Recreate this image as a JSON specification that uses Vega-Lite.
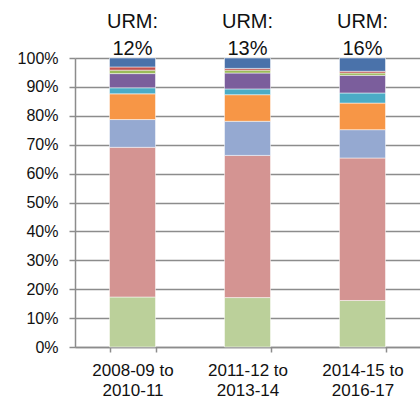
{
  "$schema": "https://vega.github.io/schema/vega-lite/v6.json",
  "width": 345,
  "height": 289,
  "padding": {"left": 75, "top": 58, "right": 0, "bottom": 55},
  "autosize": {"type": "none"},
  "background": "white",
  "config": {
    "view": {"stroke": null},
    "font": "Liberation Sans",
    "axisY": {
      "title": null,
      "labelOverlap": false,
      "labelFontSize": 16,
      "labelColor": "#111111",
      "labelPadding": 11,
      "grid": true,
      "gridColor": "#8c8c8c",
      "gridWidth": 1.5,
      "domainColor": "#8c8c8c",
      "domainWidth": 1.5,
      "tickSize": 6,
      "tickColor": "#8c8c8c",
      "tickWidth": 1.5
    }
  },
  "datasets": {
    "shares": [
      {"period": "2008-09 to 2010-11", "group": "Group 1", "k": 1, "value": 17.3},
      {"period": "2008-09 to 2010-11", "group": "Group 2", "k": 2, "value": 51.8},
      {"period": "2008-09 to 2010-11", "group": "Group 3", "k": 3, "value": 9.6},
      {"period": "2008-09 to 2010-11", "group": "Group 4", "k": 4, "value": 8.9},
      {"period": "2008-09 to 2010-11", "group": "Group 5", "k": 5, "value": 2.1},
      {"period": "2008-09 to 2010-11", "group": "Group 6", "k": 6, "value": 4.9},
      {"period": "2008-09 to 2010-11", "group": "Group 7", "k": 7, "value": 1.2},
      {"period": "2008-09 to 2010-11", "group": "Group 8", "k": 8, "value": 1.1},
      {"period": "2008-09 to 2010-11", "group": "Group 9", "k": 9, "value": 3.1},
      {"period": "2011-12 to 2013-14", "group": "Group 1", "k": 1, "value": 17.1},
      {"period": "2011-12 to 2013-14", "group": "Group 2", "k": 2, "value": 49.2},
      {"period": "2011-12 to 2013-14", "group": "Group 3", "k": 3, "value": 11.8},
      {"period": "2011-12 to 2013-14", "group": "Group 4", "k": 4, "value": 9.2},
      {"period": "2011-12 to 2013-14", "group": "Group 5", "k": 5, "value": 2.0},
      {"period": "2011-12 to 2013-14", "group": "Group 6", "k": 6, "value": 5.5},
      {"period": "2011-12 to 2013-14", "group": "Group 7", "k": 7, "value": 1.0},
      {"period": "2011-12 to 2013-14", "group": "Group 8", "k": 8, "value": 0.6},
      {"period": "2011-12 to 2013-14", "group": "Group 9", "k": 9, "value": 3.6},
      {"period": "2014-15 to 2016-17", "group": "Group 1", "k": 1, "value": 16.1},
      {"period": "2014-15 to 2016-17", "group": "Group 2", "k": 2, "value": 49.3},
      {"period": "2014-15 to 2016-17", "group": "Group 3", "k": 3, "value": 9.8},
      {"period": "2014-15 to 2016-17", "group": "Group 4", "k": 4, "value": 9.2},
      {"period": "2014-15 to 2016-17", "group": "Group 5", "k": 5, "value": 3.5},
      {"period": "2014-15 to 2016-17", "group": "Group 6", "k": 6, "value": 6.1},
      {"period": "2014-15 to 2016-17", "group": "Group 7", "k": 7, "value": 0.8},
      {"period": "2014-15 to 2016-17", "group": "Group 8", "k": 8, "value": 0.6},
      {"period": "2014-15 to 2016-17", "group": "Group 9", "k": 9, "value": 4.6}
    ],
    "urm": [
      {"period": "2008-09 to 2010-11", "urm": "12%"},
      {"period": "2011-12 to 2013-14", "urm": "13%"},
      {"period": "2014-15 to 2016-17", "urm": "16%"}
    ]
  },
  "encoding": {
    "x": {
      "field": "period",
      "type": "nominal",
      "sort": ["2008-09 to 2010-11", "2011-12 to 2013-14", "2014-15 to 2016-17"],
      "scale": {"paddingInner": 0.6, "paddingOuter": 0.3},
      "axis": {
        "title": null,
        "labelAngle": 0,
        "labelExpr": "[slice(datum.label, 0, 10), slice(datum.label, 11)]",
        "labelFontSize": 17,
        "labelColor": "#111111",
        "labelLineHeight": 20,
        "labelPadding": 10,
        "domainColor": "#8c8c8c",
        "domainWidth": 1.5,
        "tickBand": "extent",
        "tickSize": 5,
        "tickColor": "#8c8c8c",
        "tickWidth": 1.5
      }
    }
  },
  "layer": [
    {
      "data": {"name": "shares"},
      "mark": {"type": "bar", "stroke": "white", "strokeWidth": 0.5},
      "encoding": {
        "y": {
          "field": "value",
          "type": "quantitative",
          "stack": true,
          "scale": {"domain": [0, 100], "nice": false},
          "axis": {"values": [0, 10, 20, 30, 40, 50, 60, 70, 80, 90, 100], "labelExpr": "datum.value + '%'", "labelOverlap": false}
        },
        "color": {
          "field": "group",
          "type": "nominal",
          "legend": null,
          "scale": {
            "domain": ["Group 1", "Group 2", "Group 3", "Group 4", "Group 5", "Group 6", "Group 7", "Group 8", "Group 9"],
            "range": ["#BBD09A", "#D49492", "#95A9D1", "#F79646", "#4BACC6", "#7B5E9C", "#9BBB59", "#C0504D", "#4A72AA"]
          }
        },
        "order": {"field": "k", "type": "quantitative"}
      }
    },
    {
      "data": {"name": "urm"},
      "mark": {"type": "text", "text": "URM:", "fontSize": 20, "color": "#111111", "baseline": "alphabetic", "dy": -30},
      "encoding": {"y": {"datum": 100, "type": "quantitative", "axis": {"values": [0, 10, 20, 30, 40, 50, 60, 70, 80, 90, 100], "labelExpr": "datum.value + '%'", "labelOverlap": false}}}
    },
    {
      "data": {"name": "urm"},
      "mark": {"type": "text", "fontSize": 20, "color": "#111111", "baseline": "alphabetic", "dy": -3},
      "encoding": {"y": {"datum": 100, "type": "quantitative", "axis": {"values": [0, 10, 20, 30, 40, 50, 60, 70, 80, 90, 100], "labelExpr": "datum.value + '%'", "labelOverlap": false}}, "text": {"field": "urm"}}
    }
  ]
}
